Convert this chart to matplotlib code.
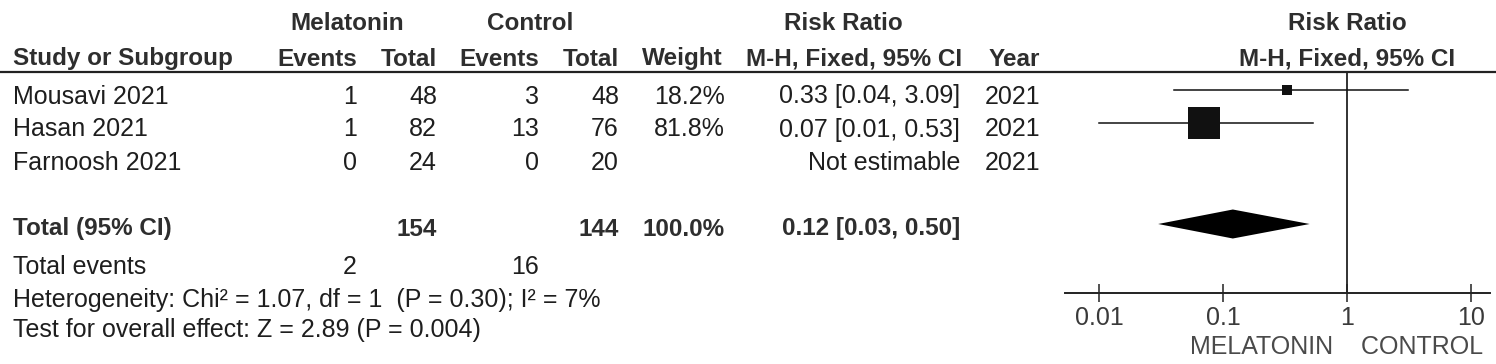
import numpy as np
import matplotlib
matplotlib.use("Agg")
import matplotlib.pyplot as plt

plt.rcParams['font.family'] = ['Liberation Sans', 'DejaVu Sans']

# data
studies = ['Mousavi 2021', 'Hasan 2021', 'Farnoosh 2021']
mel_events = [1, 1, 0]
mel_total = [48, 82, 24]
ctl_events = [3, 13, 0]
ctl_total = [48, 76, 20]
weights = [18.2, 81.8, None]
rr = [0.33, 0.07, None]
rr_lo = [0.04, 0.01, None]
rr_hi = [3.09, 0.53, None]
years = [2021, 2021, 2021]

total_mel = 154
total_ctl = 144
total_weight = 100.0
total_rr, total_lo, total_hi = 0.12, 0.03, 0.50
events_mel, events_ctl = 2, 16
heterogeneity = 'Heterogeneity: Chi\u00b2 = 1.07, df = 1  (P = 0.30); I\u00b2 = 7%'
overall = 'Test for overall effect: Z = 2.89 (P = 0.004)'
xticks = [0.01, 0.1, 1, 10]
xticklabels = ['0.01', '0.1', '1', '10']
left_label, right_label = 'MELATONIN', 'CONTROL'

# layout (pixels)
W, H = 1496, 364
row_y = [95, 128, 162]
total_y = 227
events_y = 265
het_y = 298
test_y = 328
mark_shift = -5.5
axis_y = 293
rule_y = 72
x_one = 1347
px_per_dec = 124
ax_left, ax_right = 1065, 1490

fs = 18
fs_b = 17.5
txt = '#1e1e1e'
hdr = '#2e2e2e'
base = 8.5  # centre -> baseline

fig = plt.figure(figsize=(W / 100, H / 100), dpi=100)
tab = fig.add_axes([0, 0, 1, 1])
tab.set_xlim(0, W)
tab.set_ylim(H, 0)
tab.axis('off')


def put(x, y, s, ha='right', bold=False, color=None):
    tab.text(x, y + base, s, ha=ha, va='baseline', fontsize=fs_b if bold else fs,
             fontweight='bold' if bold else 'normal',
             color=color or (hdr if bold else txt))


# header
put(347, 22, 'Melatonin', ha='center', bold=True)
put(530, 22, 'Control', ha='center', bold=True)
put(843, 22, 'Risk Ratio', ha='center', bold=True)
put(x_one, 22, 'Risk Ratio', ha='center', bold=True)
put(13, 57, 'Study or Subgroup', ha='left', bold=True)
put(357, 57, 'Events', bold=True)
put(437, 57, 'Total', bold=True)
put(539, 57, 'Events', bold=True)
put(619, 57, 'Total', bold=True)
put(723, 57, 'Weight', bold=True)
put(962, 57, 'M-H, Fixed, 95% CI', bold=True)
put(1040, 57, 'Year', bold=True)
put(x_one, 57, 'M-H, Fixed, 95% CI', ha='center', bold=True)

tab.plot([0, W], [rule_y, rule_y], color='#222222', lw=1.6, solid_capstyle='butt')

# study rows
for i, s in enumerate(studies):
    y = row_y[i]
    put(13, y, s, ha='left')
    put(357, y, str(mel_events[i]))
    put(437, y, str(mel_total[i]))
    put(539, y, str(ctl_events[i]))
    put(619, y, str(ctl_total[i]))
    if weights[i] is not None:
        put(725, y, f'{weights[i]:.1f}%')
        put(960, y, f'{rr[i]:.2f} [{rr_lo[i]:.2f}, {rr_hi[i]:.2f}]')
    else:
        put(960, y, 'Not estimable')
    put(1040, y, str(years[i]))

# totals
put(13, total_y, 'Total (95% CI)', ha='left', bold=True)
put(437, total_y, str(total_mel), bold=True)
put(619, total_y, str(total_ctl), bold=True)
put(725, total_y, f'{total_weight:.1f}%', bold=True)
put(960, total_y, f'{total_rr:.2f} [{total_lo:.2f}, {total_hi:.2f}]', bold=True)
put(13, events_y, 'Total events', ha='left')
put(357, events_y, str(events_mel))
put(539, events_y, str(events_ctl))
put(13, het_y, heterogeneity, ha='left')
put(13, test_y, overall, ha='left')

# forest plot
fp = fig.add_axes([ax_left / W, 0, (ax_right - ax_left) / W, 1])
fp.patch.set_alpha(0)
fp.set_xscale('log')
fp.set_xlim(10 ** ((ax_left - x_one) / px_per_dec), 10 ** ((ax_right - x_one) / px_per_dec))
fp.set_ylim(H, 0)
for side in ['left', 'right', 'top']:
    fp.spines[side].set_visible(False)
fp.spines['bottom'].set_position(('data', axis_y))
fp.spines['bottom'].set_linewidth(1.4)
fp.spines['bottom'].set_color('#222222')
fp.set_yticks([])
fp.set_xticks(xticks)
fp.set_xticklabels(xticklabels)
fp.xaxis.set_minor_locator(matplotlib.ticker.NullLocator())
fp.tick_params(axis='x', direction='inout', length=13, width=1.1, color='#222222',
               pad=3, labelsize=fs, labelcolor='#3a3a3a')

fp.plot([1, 1], [rule_y, axis_y], color='#222222', lw=1.3)

for i in range(len(studies)):
    if rr[i] is None:
        continue
    y = row_y[i] + mark_shift
    fp.plot([rr_lo[i], rr_hi[i]], [y, y], color='#111111', lw=1.1)
    side_px = 3.6 + 0.347 * weights[i]
    fp.plot([rr[i]], [y], marker='s', markersize=side_px * 0.72,
            color='#111111', markeredgewidth=0)

dy = total_y - 3
fp.fill([total_lo, total_rr, total_hi, total_rr], [dy, dy - 14.5, dy, dy + 14.5],
        color='#000000', lw=0)

fp.text(1, 345 + base, left_label + '  ', ha='right', va='baseline', fontsize=fs,
        color='#4a4a4a')
fp.text(1, 345 + base, '  ' + right_label, ha='left', va='baseline', fontsize=fs,
        color='#4a4a4a')

fig.savefig('out.png', dpi=100)
